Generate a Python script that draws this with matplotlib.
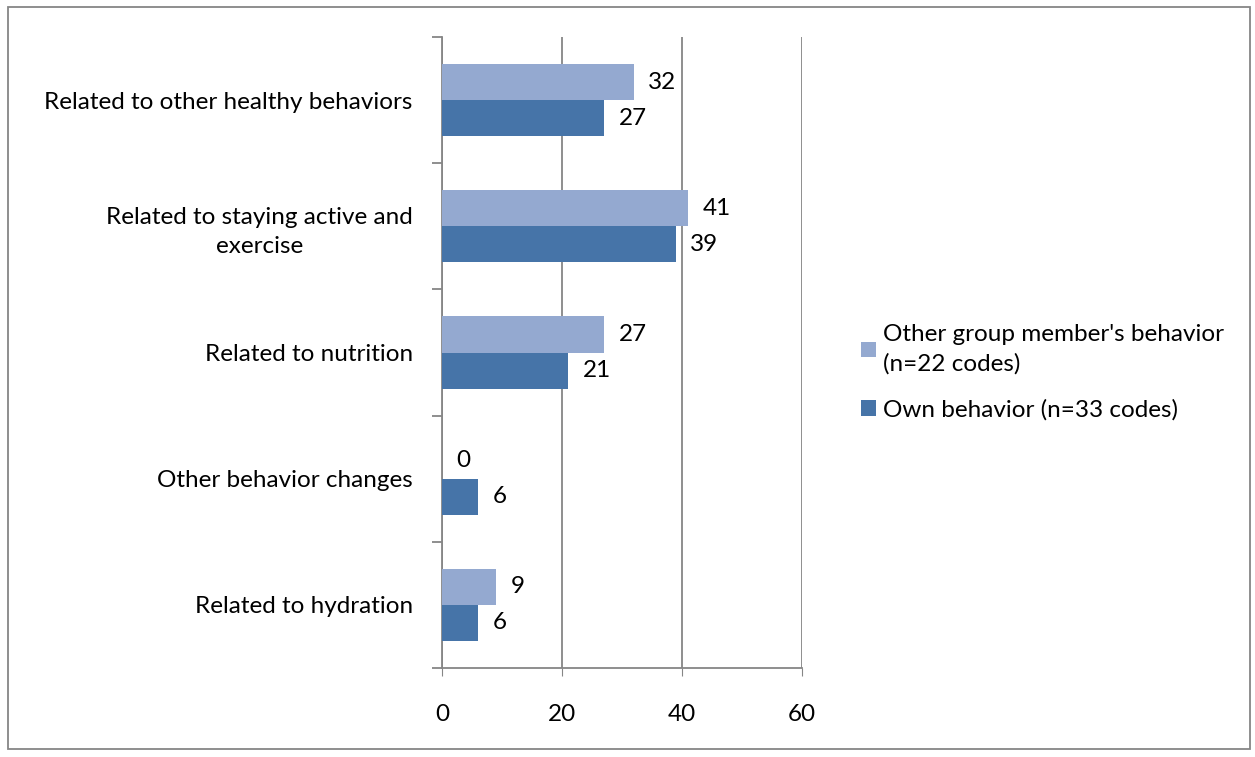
import numpy as np
import matplotlib.pyplot as plt
from matplotlib.patches import Rectangle

plt.rcParams['font.family'] = ['Lato', 'DejaVu Sans']

categories = ['Related to hydration',
              'Other behavior changes',
              'Related to nutrition',
              'Related to staying active and\nexercise',
              'Related to other healthy behaviors']
other_vals = [9, 0, 27, 41, 32]
own_vals = [6, 6, 21, 39, 27]
series_names = ["Other group member's behavior\n(n=22 codes)",
                'Own behavior (n=33 codes)']

light = '#94A9D0'
dark = '#4674A8'
grey = '#868686'
fs = 17.5

fig = plt.figure(figsize=(12.55, 7.57), dpi=100)
ax = fig.add_axes([442 / 1255, 89 / 757, 360 / 1255, 631 / 757])

y = np.arange(len(categories))
h = 0.286
b1 = ax.barh(y + h / 2, other_vals, height=h, color=light, label=series_names[0], zorder=3)
b2 = ax.barh(y - h / 2, own_vals, height=h, color=dark, label=series_names[1], zorder=3)

for bars, vals in ((b1, other_vals), (b2, own_vals)):
    for bar, v in zip(bars, vals):
        ax.text(v + 2.4, bar.get_y() + bar.get_height() / 2, str(v),
                va='center', ha='left', fontsize=fs)

ax.set_xlim(0, 60)
ax.set_ylim(-0.5, len(categories) - 0.5)
ax.set_xticks([0, 20, 40, 60])
ax.tick_params(axis='x', labelsize=fs, length=6, color=grey, pad=20)
ax.grid(axis='x', color=grey, linewidth=1.3, zorder=0)

# category labels at band centres, ticks at band edges
ax.set_yticks(y)
ax.set_yticklabels(categories, fontsize=fs, ha='right', multialignment='center',
                   linespacing=1.45)
ax.tick_params(axis='y', length=0, pad=21)
ax.set_yticks(np.arange(-0.5, len(categories)), minor=True)
ax.tick_params(axis='y', which='minor', length=7, color=grey, width=1.3)

for s in ('top', 'right'):
    ax.spines[s].set_visible(False)
for s in ('left', 'bottom'):
    ax.spines[s].set_color(grey)
    ax.spines[s].set_linewidth(1.3)

handles, labels = ax.get_legend_handles_labels()
leg = fig.legend(handles, labels, loc='upper left', bbox_to_anchor=(849 / 1255, 1 - 312 / 757),
                 frameon=False, fontsize=fs, handlelength=0.6, handleheight=0.6,
                 handletextpad=0.3, labelspacing=1.0, borderpad=0)
for t in leg.get_texts():
    t.set_linespacing(1.45)

fig.patches.append(Rectangle((8 / 1255, 8 / 757), 1242 / 1255, 742 / 757,
                             transform=fig.transFigure, fill=False,
                             edgecolor=grey, linewidth=1.3))

fig.savefig('out.png', dpi=100)
